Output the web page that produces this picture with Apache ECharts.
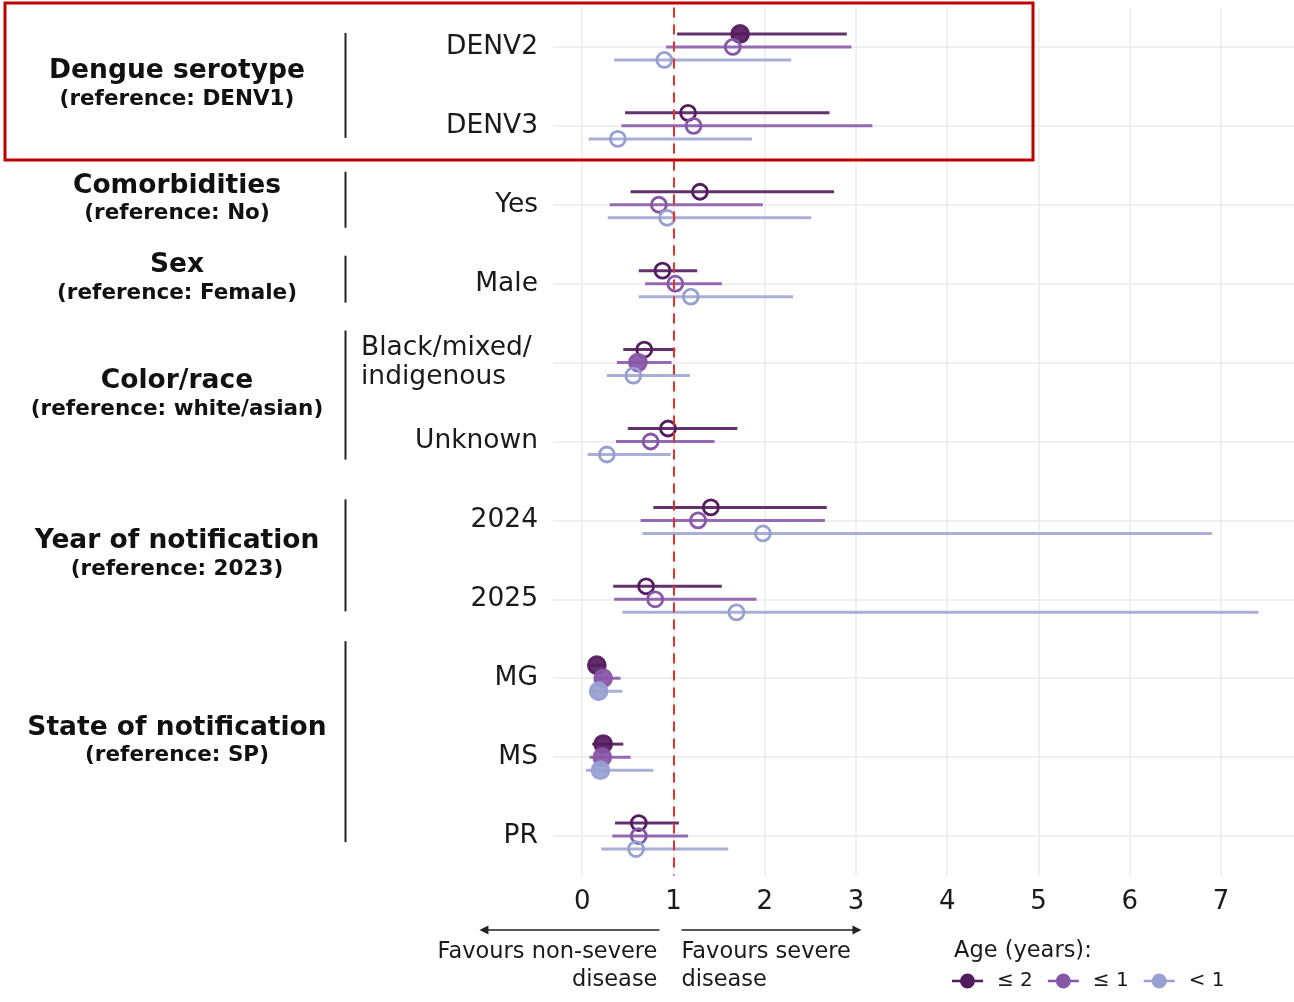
<!DOCTYPE html>
<html>
<head>
<meta charset="utf-8">
<script src="https://cdn.jsdelivr.net/npm/echarts@6/dist/echarts.min.js"></script>
<style>html,body{margin:0;padding:0;background:#fff;}#c{width:1294px;height:1002px;}</style>
</head>
<body>
<div id="c"></div>
<script>
// ---------------- data ----------------
const categories = ['DENV2','DENV3','Yes','Male','Black/mixed/\nindigenous','Unknown','2024','2025','MG','MS','PR'];
const seriesNames = ['≤ 2','≤ 1','< 1'];
const est_le2 = [1.73,1.16,1.29,0.88,0.68,0.94,1.41,0.70,0.16,0.23,0.62];
const lo_le2  = [1.04,0.47,0.53,0.62,0.45,0.50,0.78,0.34,0.09,0.11,0.36];
const hi_le2  = [2.90,2.71,2.76,1.26,1.02,1.70,2.68,1.53,0.26,0.45,1.06];
const sig_le2 = [1,0,0,0,0,0,0,0,1,1,0];
const est_le1 = [1.65,1.22,0.84,1.02,0.61,0.75,1.27,0.80,0.23,0.22,0.62];
const lo_le1  = [0.92,0.43,0.30,0.69,0.38,0.37,0.64,0.35,0.14,0.08,0.33];
const hi_le1  = [2.95,3.18,1.98,1.53,0.98,1.45,2.66,1.91,0.42,0.53,1.16];
const sig_le1 = [0,0,0,0,1,0,0,0,1,1,0];
const est_lt1 = [0.90,0.39,0.93,1.19,0.56,0.27,1.98,1.69,0.18,0.20,0.59];
const lo_lt1  = [0.35,0.07,0.28,0.62,0.27,0.06,0.66,0.44,0.08,0.04,0.21];
const hi_lt1  = [2.29,1.86,2.51,2.31,1.18,0.97,6.90,7.41,0.44,0.78,1.60];
const sig_lt1 = [0,0,0,0,0,0,0,0,1,1,0];
const xTicks = [0,1,2,3,4,5,6,7];
const refValue = 1;
const groups = [
  {title:'Dengue serotype', sub:'(reference: DENV1)', first:0, last:1},
  {title:'Comorbidities', sub:'(reference: No)', first:2, last:2},
  {title:'Sex', sub:'(reference: Female)', first:3, last:3},
  {title:'Color/race', sub:'(reference: white/asian)', first:4, last:5},
  {title:'Year of notification', sub:'(reference: 2023)', first:6, last:7},
  {title:'State of notification', sub:'(reference: SP)', first:8, last:10}
];
const legendTitle = 'Age (years):';
const leftArrowText = 'Favours non-severe\ndisease';
const rightArrowText = 'Favours severe\ndisease';

// ---------------- styles ----------------
const FONT = 'DejaVu Sans';
const colors = ['#541b5e','#8856a7','#97a0d0'];
const lineColors = ['#5b2766','#8f62ae','#a3abd6'];
const dodge = [-0.165, 0, 0.165];
const groupLayout = [
  {dy:-1, half:52.5}, {dy:-5, half:28}, {dy:-4.5, half:23.5},
  {dy:-7, half:64.5}, {dy:-4.5, half:56}, {dy:-15.5, half:100.5}
];

function build(est, lo, hi, sig) {
  return est.map((e, i) => [e, lo[i], hi[i], i, sig[i]]);
}
const seriesData = [
  build(est_le2, lo_le2, hi_le2, sig_le2),
  build(est_le1, lo_le1, hi_le1, sig_le1),
  build(est_lt1, lo_lt1, hi_lt1, sig_lt1)
];

function makeRender(k) {
  return function (params, api) {
    const cat = api.value(3);
    const band = api.size([0, 1])[1];
    const off = dodge[k] * band;
    const p = api.coord([api.value(0), cat]);
    const a = api.coord([api.value(1), cat]);
    const b = api.coord([api.value(2), cat]);
    const y = p[1] + off;
    const filled = api.value(4) === 1;
    return {
      type: 'group',
      children: [
        {type:'line', shape:{x1:a[0], y1:y, x2:b[0], y2:y},
         style:{stroke: lineColors[k], lineWidth: 3, opacity: 0.95}},
        {type:'circle', shape:{cx:p[0], cy:y, r: filled ? 8.5 : 7.5},
         style:{fill: filled ? colors[k] : 'rgba(255,255,255,0)', stroke: colors[k], lineWidth: 2.8, opacity: filled ? 0.92 : 1}}
      ]
    };
  };
}

const legendIcon = 'path://M0,6.2 L31,6.2 L31,8.8 L0,8.8 Z M23,7.5 A7.5,7.5 0 1,1 8,7.5 A7.5,7.5 0 1,1 23,7.5 Z';

const series = [2, 1, 0].map(k => ({
  name: seriesNames[k],
  type: 'custom',
  renderItem: makeRender(k),
  encode: {x: [0, 1, 2], y: 3},
  itemStyle: {color: colors[k]},
  data: seriesData[k],
  z: 3 + k
}));
// horizontal grid lines at category centres
series.push({
  name: 'hgrid', type: 'line', data: [], silent: true, z: 1,
  markLine: {
    silent: true, z: 1, symbol: ['none','none'], label: {show: false},
    lineStyle: {color: '#ebebeb', type: 'solid', width: 1.5},
    data: categories.map(c => ({yAxis: c}))
  }
});
// reference line
series.push({
  name: 'ref', type: 'line', data: [], silent: true, z: 10,
  markLine: {
    silent: true, z: 10, symbol: ['none','none'], label: {show: false},
    lineStyle: {color: '#e8302a', type: [10, 7], width: 2},
    data: [{xAxis: refValue}]
  }
});

const chart = echarts.init(document.getElementById('c'), null, {renderer: 'canvas'});
const option = {
  backgroundColor: '#ffffff',
  animation: false,
  textStyle: {fontFamily: FONT},
  grid: {left: 553, right: 0, top: 7.5, height: 868, containLabel: false},
  xAxis: {
    type: 'value', min: -0.32, max: 7.8,
    axisLine: {show: false},
    axisTick: {show: false, customValues: xTicks},
    axisLabel: {customValues: xTicks, fontSize: 26, color: '#1a1a1a', margin: 14, fontFamily: FONT},
    splitLine: {show: true, lineStyle: {color: '#ebebeb', width: 1.5}}
  },
  yAxis: {
    type: 'category', data: categories, inverse: true,
    axisLine: {show: false}, axisTick: {show: false},
    splitLine: {show: false},
    axisLabel: {
      fontSize: 26.5, color: '#1a1a1a', margin: 15, fontFamily: FONT,
      formatter: function (v) {
        return v.indexOf('\n') >= 0 ? '{m|' + v + '}' : v;
      },
      rich: {m: {fontSize: 26.5, width: 177, align: 'left', lineHeight: 29, color: '#1a1a1a', fontFamily: FONT}}
    }
  },
  legend: {
    data: [seriesNames[0], seriesNames[1], seriesNames[2]],
    left: 952, top: 971, orient: 'horizontal',
    icon: legendIcon, itemWidth: 31, itemHeight: 15, itemGap: 15, padding: 0,
    selectedMode: false,
    textStyle: {fontSize: 20, color: '#1a1a1a', fontFamily: FONT, padding: [0, 0, 0, 9]}
  },
  series: series
};
chart.setOption(option);

// ---------------- annotations ----------------
function catY(i) { return chart.convertToPixel({yAxisIndex: 0}, categories[i]); }
const g = [];
groups.forEach((gr, j) => {
  const c = (catY(gr.first) + catY(gr.last)) / 2 + groupLayout[j].dy;
  g.push({type: 'text', x: 177, y: c - 14, style: {text: gr.title, fontFamily: FONT, fontWeight: 'bold', fontSize: 26.5, fill: '#111', align: 'center', verticalAlign: 'middle'}});
  g.push({type: 'text', x: 177, y: c + 14, style: {text: gr.sub, fontFamily: FONT, fontWeight: 'bold', fontSize: 21.5, fill: '#111', align: 'center', verticalAlign: 'middle'}});
  g.push({type: 'line', shape: {x1: 345.5, y1: c - groupLayout[j].half, x2: 345.5, y2: c + groupLayout[j].half}, style: {stroke: '#222', lineWidth: 2}});
});
g.push({type: 'rect', shape: {x: 5, y: 3, width: 1028, height: 157}, style: {fill: 'none', stroke: '#c00000', lineWidth: 3}, z: 100});
const ay = 930;
const xr = chart.convertToPixel({xAxisIndex: 0}, refValue);
const lA = [xr - 14, xr - 194], rA = [xr + 8, xr + 188];
g.push({type: 'line', shape: {x1: lA[0], y1: ay, x2: lA[1] + 6, y2: ay}, style: {stroke: '#222', lineWidth: 1.5}});
g.push({type: 'polygon', shape: {points: [[lA[1], ay], [lA[1] + 9, ay - 4.5], [lA[1] + 9, ay + 4.5]]}, style: {fill: '#222'}});
g.push({type: 'line', shape: {x1: rA[0], y1: ay, x2: rA[1] - 6, y2: ay}, style: {stroke: '#222', lineWidth: 1.5}});
g.push({type: 'polygon', shape: {points: [[rA[1], ay], [rA[1] - 9, ay - 4.5], [rA[1] - 9, ay + 4.5]]}, style: {fill: '#222'}});
g.push({type: 'text', x: xr - 16, y: 938, style: {text: leftArrowText, fontFamily: FONT, fontSize: 22.5, fill: '#1a1a1a', align: 'right', verticalAlign: 'top', lineHeight: 28}});
g.push({type: 'text', x: xr + 8, y: 938, style: {text: rightArrowText, fontFamily: FONT, fontSize: 22.5, fill: '#1a1a1a', align: 'left', verticalAlign: 'top', lineHeight: 28}});
g.push({type: 'text', x: 954, y: 951, style: {text: legendTitle, fontFamily: FONT, fontSize: 22.5, fill: '#1a1a1a', align: 'left', verticalAlign: 'middle'}});
chart.setOption({graphic: g});
</script>
</body>
</html>
